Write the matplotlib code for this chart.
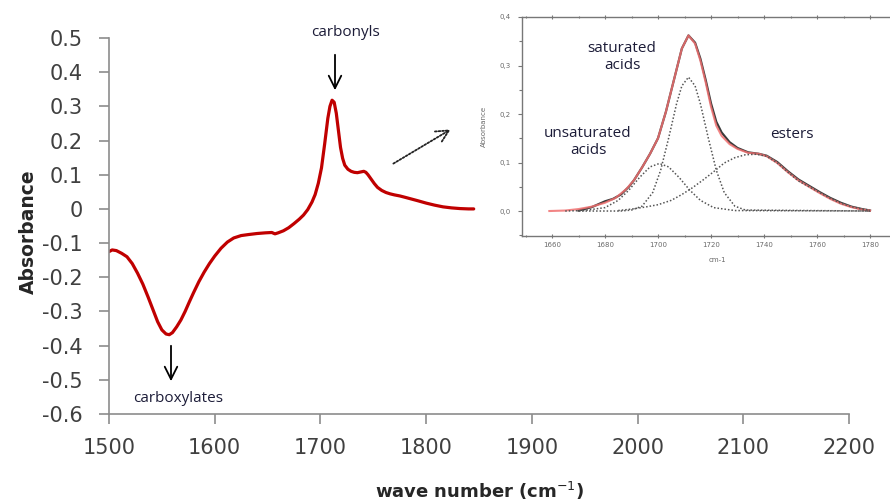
import matplotlib
matplotlib.use("Agg")
import matplotlib.pyplot as plt
from matplotlib.ticker import MultipleLocator, FuncFormatter

# ---------------- main spectrum ----------------
wave = [1500, 1503, 1507, 1512, 1517, 1522, 1527, 1532, 1537, 1542, 1546, 1550,
        1554, 1557, 1560, 1564, 1568, 1572, 1576, 1580, 1585, 1590, 1595, 1600,
        1606, 1612, 1618, 1625, 1632, 1640, 1648, 1654, 1657, 1660, 1665, 1670,
        1675, 1680, 1684, 1688, 1692, 1695, 1698, 1701, 1704, 1707, 1709, 1711,
        1713, 1715, 1717, 1719, 1721, 1723, 1726, 1729, 1732, 1735, 1738, 1741,
        1743, 1745, 1748, 1751, 1754, 1758, 1762, 1766, 1770, 1775, 1780, 1786,
        1792, 1800, 1808, 1816, 1824, 1832, 1840, 1845]
absorb = [-0.125, -0.120, -0.122, -0.130, -0.140, -0.160, -0.188, -0.220, -0.258,
          -0.298, -0.330, -0.354, -0.366, -0.368, -0.362, -0.345, -0.325, -0.300,
          -0.272, -0.245, -0.213, -0.185, -0.160, -0.138, -0.115, -0.097, -0.085,
          -0.078, -0.075, -0.072, -0.070, -0.069, -0.073, -0.070, -0.064, -0.055,
          -0.043, -0.030, -0.018, -0.002, 0.020, 0.042, 0.075, 0.120, 0.190, 0.265,
          0.300, 0.318, 0.312, 0.280, 0.230, 0.180, 0.148, 0.128, 0.116, 0.110,
          0.107, 0.106, 0.108, 0.110, 0.107, 0.100, 0.087, 0.074, 0.063, 0.054,
          0.048, 0.044, 0.041, 0.038, 0.034, 0.029, 0.024, 0.017, 0.011, 0.006,
          0.003, 0.001, 0.000, 0.000]

x_ticks = [1500, 1600, 1700, 1800, 1900, 2000, 2100, 2200]
y_ticks = [0.5, 0.4, 0.3, 0.2, 0.1, 0, -0.1, -0.2, -0.3, -0.4, -0.5, -0.6]
y_tick_labels = ["0.5", "0.4", "0.3", "0.2", "0.1", "0", "-0.1", "-0.2", "-0.3",
                 "-0.4", "-0.5", "-0.6"]

# ---------------- inset (carbonyl region fit) ----------------
fit_x = [1659, 1665, 1670, 1675, 1680, 1684, 1688, 1691, 1694, 1697, 1700, 1703,
         1706, 1709, 1711.5, 1714, 1716, 1718, 1720, 1722, 1724, 1727, 1730, 1734,
         1738, 1741, 1745, 1749, 1753, 1757, 1761, 1765, 1769, 1773, 1777, 1780]
fit_y = [0.000, 0.001, 0.004, 0.009, 0.017, 0.027, 0.045, 0.064, 0.090, 0.118,
         0.150, 0.205, 0.270, 0.335, 0.362, 0.345, 0.310, 0.265, 0.215, 0.176,
         0.155, 0.138, 0.128, 0.120, 0.118, 0.113, 0.099, 0.080, 0.063, 0.050,
         0.037, 0.025, 0.015, 0.008, 0.003, 0.001]

meas_x = [1670, 1675, 1680, 1683, 1686, 1689, 1691, 1694, 1697, 1700, 1703, 1706,
          1709, 1711.5, 1714, 1716, 1718, 1720, 1722, 1724, 1727, 1730, 1734, 1738,
          1741, 1745, 1749, 1753, 1757, 1761, 1765, 1769, 1773, 1777, 1780]
meas_y = [0.001, 0.008, 0.020, 0.025, 0.034, 0.050, 0.064, 0.090, 0.118, 0.150,
          0.205, 0.270, 0.335, 0.362, 0.347, 0.314, 0.270, 0.222, 0.184, 0.162,
          0.142, 0.130, 0.121, 0.118, 0.114, 0.101, 0.082, 0.065, 0.052, 0.039,
          0.027, 0.017, 0.009, 0.004, 0.001]

unsat_x = [1665, 1672, 1680, 1685, 1689, 1693, 1697, 1700.5, 1704, 1708, 1712,
           1716, 1721, 1729, 1780]
unsat_y = [0.000, 0.001, 0.007, 0.022, 0.043, 0.069, 0.091, 0.098, 0.091, 0.069,
           0.043, 0.022, 0.007, 0.001, 0.000]

sat_x = [1670, 1686, 1690, 1694, 1698, 1701, 1704, 1707, 1709, 1711.5, 1714, 1716,
         1719, 1722, 1725, 1729, 1733, 1780]
sat_y = [0.000, 0.000, 0.002, 0.010, 0.038, 0.084, 0.150, 0.221, 0.258, 0.276,
         0.258, 0.221, 0.150, 0.084, 0.038, 0.010, 0.002, 0.000]

ester_x = [1685, 1690, 1695, 1700, 1705, 1709, 1713, 1717, 1721, 1725, 1729, 1733,
           1737, 1741, 1745, 1749, 1753, 1757, 1761, 1765, 1769, 1773, 1777, 1780]
ester_y = [0.001, 0.004, 0.008, 0.013, 0.022, 0.034, 0.048, 0.064, 0.081, 0.099,
           0.110, 0.116, 0.117, 0.113, 0.099, 0.080, 0.062, 0.050, 0.038, 0.026,
           0.016, 0.009, 0.004, 0.002]

inset_x_ticks = [1660, 1680, 1700, 1720, 1740, 1760, 1780]
inset_y_ticks = [0.0, 0.1, 0.2, 0.3, 0.4]

W, H = 890, 504
fig = plt.figure(figsize=(W / 100, H / 100), dpi=100)

def fx(px):
    return px / W

def fy(py):
    return 1 - py / H

# main axes: x 1500 at px 109, 2200 at px 849; y 0.5 at px 38, -0.6 at px 414
ax = fig.add_axes([fx(109), fy(414), (849 - 109) / W, (414 - 38) / H])
ax.plot(wave, absorb, color="#C00000", lw=2.3, solid_joinstyle="round",
        solid_capstyle="round")
ax.set_xlim(1500, 2200)
ax.set_ylim(-0.6, 0.5)
ax.set_xticks(x_ticks)
ax.set_yticks(y_ticks)
ax.set_yticklabels(y_tick_labels)
for s in ["top", "right"]:
    ax.spines[s].set_visible(False)
for s in ["left", "bottom"]:
    ax.spines[s].set_color("#8c8c8c")
    ax.spines[s].set_linewidth(1.2)
ax.tick_params(axis="both", colors="#8c8c8c", width=1.2, length=7,
               labelcolor="#404040", labelsize=15)
ax.tick_params(axis="y", pad=12)
ax.tick_params(axis="x", pad=10)

fig.text(fx(480), fy(491), "wave number (cm$^{-1}$)", ha="center", va="center",
         fontsize=13, fontweight="bold", color="#262626")
fig.text(fx(28), fy(232), "Absorbance", ha="center", va="center", rotation=90,
         fontsize=13.5, fontweight="bold", color="#262626")

txtc = "#1c1c38"
fig.text(fx(345), fy(33), "carbonyls", ha="center", va="center", fontsize=11,
         color=txtc, family="Open Sans")
fig.text(fx(178), fy(398), "carboxylates", ha="center", va="center", fontsize=11,
         color=txtc, family="Open Sans")
ax.annotate("", xy=(fx(335), fy(93)), xytext=(fx(335), fy(52)),
            xycoords="figure fraction", textcoords="figure fraction",
            arrowprops=dict(arrowstyle="->,head_length=0.9,head_width=0.45",
                            color="black", lw=1.3))
ax.annotate("", xy=(fx(171), fy(384)), xytext=(fx(171), fy(343)),
            xycoords="figure fraction", textcoords="figure fraction",
            arrowprops=dict(arrowstyle="->,head_length=0.9,head_width=0.45",
                            color="black", lw=1.3))
ax.annotate("", xy=(fx(453), fy(128)), xytext=(fx(391), fy(165)),
            xycoords="figure fraction", textcoords="figure fraction",
            arrowprops=dict(arrowstyle="->,head_length=0.9,head_width=0.45",
                            color="#222222", lw=1.3, linestyle=(0, (1, 1))))

# inset: x 1660 at px 552, 1780 at px 870; y 0.4 at px 17, 0.0 at px 211
sx = (870 - 552) / 120.0
x0 = 1660 - (552 - 522) / sx
x1 = 1660 + (912 - 552) / sx
ins = fig.add_axes([fx(522), fy(236), (912 - 522) / W, (236 - 17) / H])
ins.set_xlim(x0, x1)
ins.set_ylim(-0.0515, 0.4)
ins.plot(meas_x, meas_y, color="#3a3a3a", lw=1.6)
ins.plot(fit_x, fit_y, color="#f07070", lw=1.5, alpha=0.85)
for xs, ys in [(unsat_x, unsat_y), (sat_x, sat_y), (ester_x, ester_y)]:
    ins.plot(xs, ys, color="#555555", lw=1.1, linestyle=(0, (1, 1.3)))
ins.set_xticks(inset_x_ticks)
ins.set_yticks(inset_y_ticks)
ins.xaxis.set_minor_locator(MultipleLocator(10))
ins.yaxis.set_minor_locator(MultipleLocator(0.05))
ins.yaxis.set_major_formatter(FuncFormatter(lambda v, p: f"{v:.1f}".replace(".", ",")))
for s in ins.spines.values():
    s.set_color("#777777")
    s.set_linewidth(1.0)
ins.spines["right"].set_visible(False)
ins.tick_params(axis="both", which="both", colors="#777777", labelsize=5,
                labelcolor="#6a6a6a", width=0.8)
ins.tick_params(axis="both", which="major", length=3, pad=3)
ins.tick_params(axis="y", which="major", pad=5)
ins.tick_params(axis="both", which="minor", length=2)
ins.tick_params(axis="x", which="both", top=True, direction="inout")
ins.set_xlabel("cm-1", fontsize=5, color="#6a6a6a", labelpad=6)
ins.set_ylabel("Absorbance", fontsize=5, color="#6a6a6a", labelpad=9)

fig.text(fx(622), fy(57), "saturated\nacids", ha="center", va="center",
         fontsize=11, color=txtc, family="Open Sans", linespacing=1.15)
fig.text(fx(588), fy(142), "unsaturated\nacids", ha="center", va="center",
         fontsize=11, color=txtc, family="Open Sans", linespacing=1.15)
fig.text(fx(792), fy(135), "esters", ha="center", va="center",
         fontsize=11, color=txtc, family="Open Sans")

fig.savefig("out.png", dpi=100)
